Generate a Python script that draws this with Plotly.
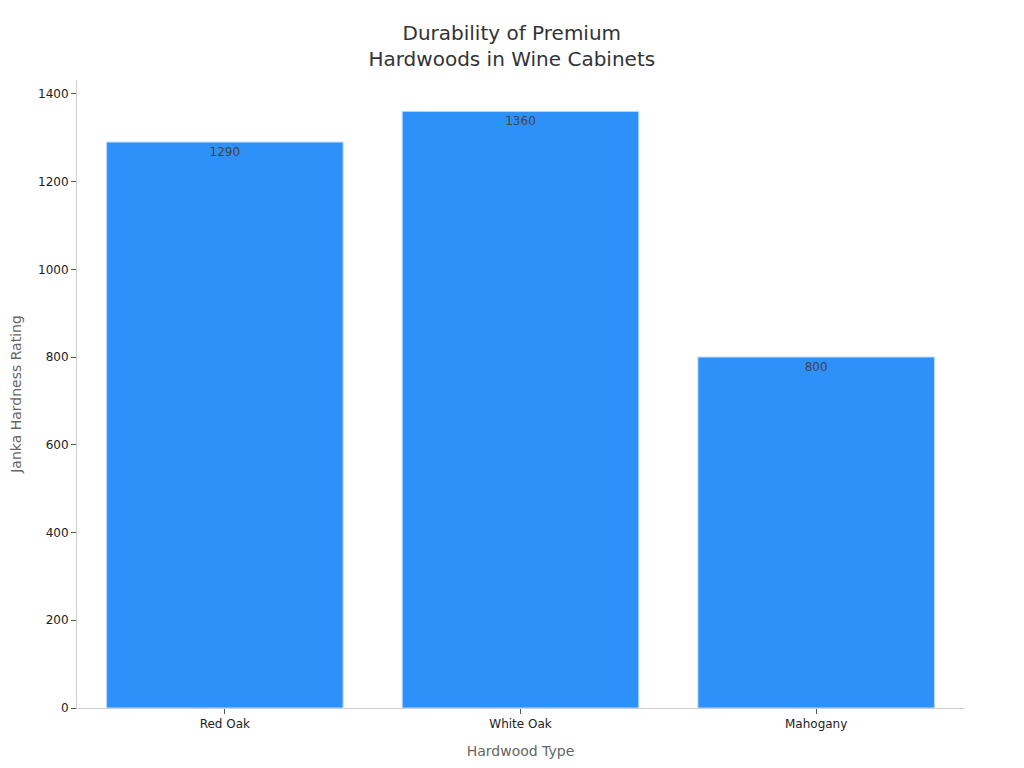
import plotly.graph_objects as go

woods = ["Red Oak", "White Oak", "Mahogany"]
janka = [1290, 1360, 800]

fig = go.Figure()
fig.add_trace(go.Bar(
    x=woods,
    y=janka,
    text=janka,
    textposition="inside",
    insidetextanchor="end",
    textfont=dict(color="#444444", size=12),
    marker=dict(color="#2e91fa", line=dict(color="#b8d8fb", width=1)),
))

fig.update_layout(
    width=1024,
    height=768,
    font=dict(family="DejaVu Sans", color="#333333"),
    title=dict(
        text="Durability of Premium<br>Hardwoods in Wine Cabinets",
        x=0.492,
        xanchor="center",
        y=0.958,
        font=dict(size=20, color="#333333"),
    ),
    margin=dict(l=69, r=68, t=72, b=68),
    plot_bgcolor="white",
    paper_bgcolor="white",
    bargap=0.2,
    showlegend=False,
)
fig.update_xaxes(
    title=dict(text="Hardwood Type", font=dict(size=14, color="#666666"), standoff=15),
    showline=True, linecolor="#d0d0d0",
    ticks="outside", tickcolor="#555555", ticklen=5,
    tickfont=dict(size=12, color="#222222"),
    showgrid=False, automargin=False,
)
fig.update_yaxes(
    title=dict(text="Janka Hardness Rating", font=dict(size=14, color="#666666"), standoff=21),
    showline=True, linecolor="#d0d0d0",
    ticks="outside", tickcolor="#555555", ticklen=5,
    tickfont=dict(size=12, color="#222222"),
    showgrid=False, zeroline=False, automargin=False,
    dtick=200,
)

fig.write_html("out.html")
